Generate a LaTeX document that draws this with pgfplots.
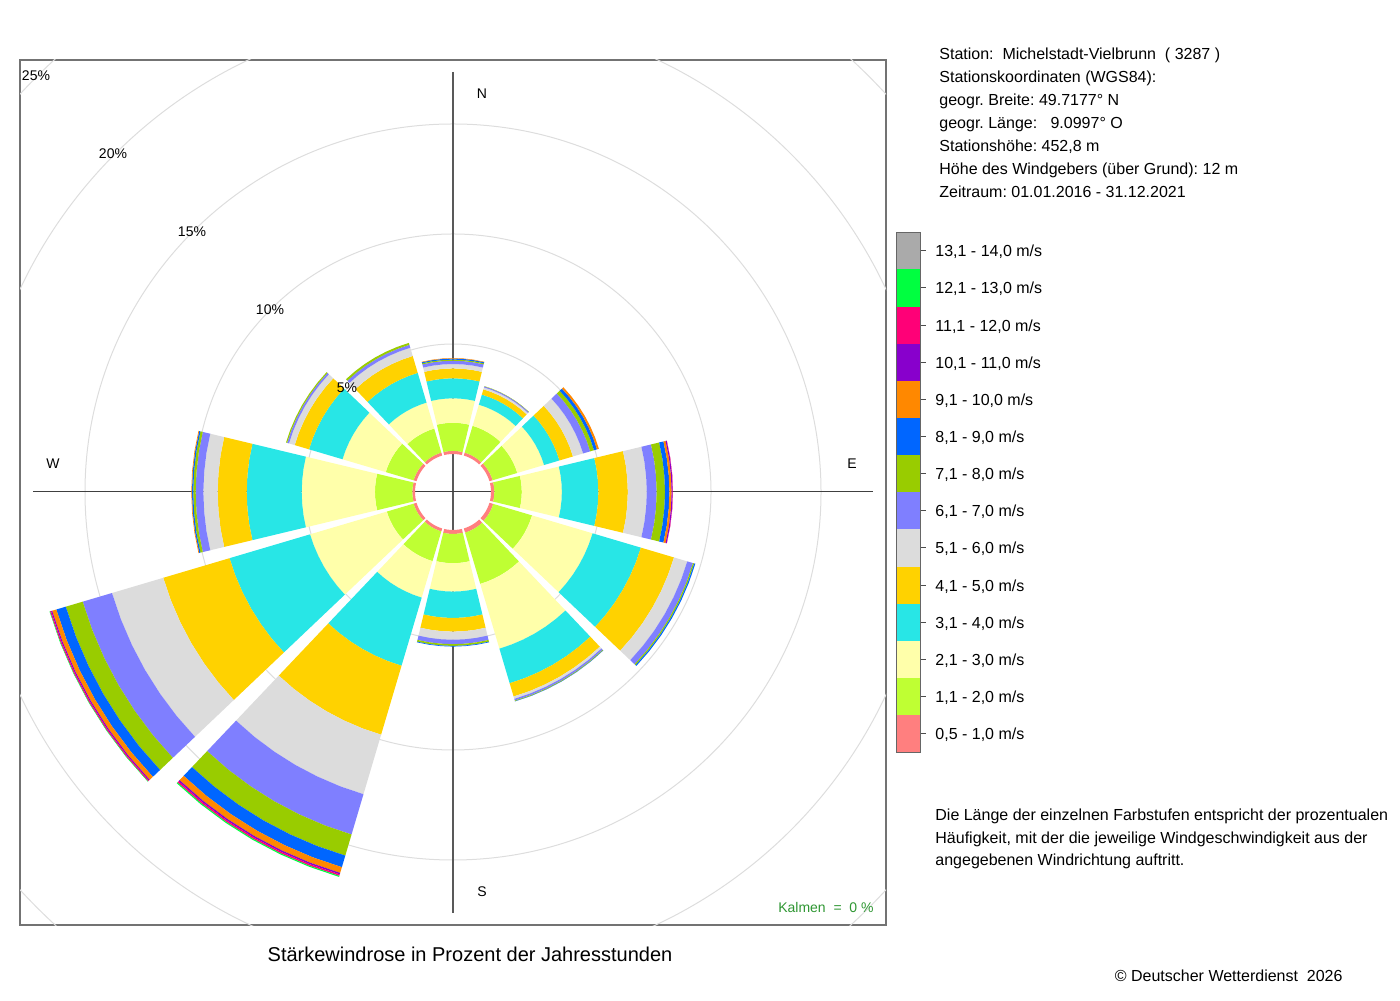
\documentclass[border=0pt]{standalone}
\usepackage{fontspec}
\setmainfont{Liberation Sans}
\usepackage{pgfplots}
\usepackage{pgfplotstable}
\pgfplotsset{compat=1.18}
\frenchspacing

\definecolor{wc1}{HTML}{FF7F7F}
\definecolor{wc2}{HTML}{BFFF33}
\definecolor{wc3}{HTML}{FFFFAA}
\definecolor{wc4}{HTML}{28E6E6}
\definecolor{wc5}{HTML}{FFD200}
\definecolor{wc6}{HTML}{DCDCDC}
\definecolor{wc7}{HTML}{7F7FFF}
\definecolor{wc8}{HTML}{99CC00}
\definecolor{wc9}{HTML}{0066FF}
\definecolor{wc10}{HTML}{FF8800}
\definecolor{wc11}{HTML}{8800CC}
\definecolor{wc12}{HTML}{FF0077}
\definecolor{wc13}{HTML}{00FF40}
\definecolor{wc14}{HTML}{AAAAAA}
\definecolor{gridc}{HTML}{DDDDDD}
\definecolor{kalmen}{HTML}{2E9632}

% percentage of hours per direction (compass degrees) and speed class
\pgfplotstableread{
dir c1 c2 c3 c4 c5 c6 c7 c8 c9 c10 c11 c12 c13 c14
0   0.14 1.28 1.11 0.91 0.45 0.20 0.15 0.05 0.05 0.02 0 0 0 0
30  0.14 1.27 1.00 0.48 0.25 0.09 0.05 0.01 0 0 0 0 0 0
60  0.15 1.17 1.27 0.73 0.64 0.48 0.34 0.18 0.14 0.09 0 0 0 0
90  0.15 1.25 1.82 1.66 1.34 0.86 0.45 0.38 0.20 0.10 0.05 0.01 0 0
120 0.18 1.84 2.87 2.29 1.57 0.63 0.27 0.06 0.05 0 0 0 0 0
150 0.20 2.43 3.07 1.64 0.63 0.11 0.08 0.03 0.01 0 0 0 0 0
180 0.18 1.33 1.29 1.20 0.62 0.37 0.20 0.08 0.03 0 0 0 0 0
210 0.14 1.41 1.73 3.23 3.27 2.82 1.91 1.00 0.55 0.27 0.07 0.07 0.05 0
240 0.14 1.27 3.64 3.82 3.14 2.43 1.39 0.80 0.45 0.20 0.05 0.05 0.02 0
270 0.12 1.70 3.33 2.50 1.32 0.65 0.35 0.11 0.06 0.03 0 0 0 0
300 0.14 1.32 2.05 1.59 0.68 0.27 0.09 0.05 0 0 0 0 0 0
330 0.14 1.14 1.23 1.41 0.80 0.39 0.14 0.09 0 0 0 0 0 0
}\windtable

\newcount\rowcnt
\newcount\colcnt
\newcommand\addpt[2]{%
  \pgfmathsetmacro\ang{\mang+#1}%
  \pgfmathsetmacro\tx{#2*cos(\ang)}%
  \pgfmathsetmacro\ty{#2*sin(\ang)}%
  \edef\coords{\coords (\tx,\ty)}%
}
% #1 compass direction, #2 cumulative start %, #3 cumulative end %, #4 colour
\newcommand\drawsector[4]{%
  \pgfmathsetmacro\Ra{38+22*#2}%
  \pgfmathsetmacro\Rb{38+22*#3}%
  \pgfmathsetmacro\mang{90-#1}%
  \def\coords{}%
  \addpt{-13.5}{\Ra}\addpt{-9}{\Ra}\addpt{-4.5}{\Ra}\addpt{0}{\Ra}%
  \addpt{4.5}{\Ra}\addpt{9}{\Ra}\addpt{13.5}{\Ra}%
  \addpt{13.5}{\Rb}\addpt{9}{\Rb}\addpt{4.5}{\Rb}\addpt{0}{\Rb}%
  \addpt{-4.5}{\Rb}\addpt{-9}{\Rb}\addpt{-13.5}{\Rb}%
  \edef\temp{\noexpand\addplot[draw=none,fill=#4,forget plot] coordinates {\coords};}%
  \temp
}
\def\docol{%
  \pgfplotstablegetelem{\the\rowcnt}{c\the\colcnt}\of\windtable
  \let\val\pgfplotsretval
  \pgfmathsetmacro\newcum{\cum+\val}%
  \ifdim\val pt>0pt \drawsector{\curdir}{\cum}{\newcum}{wc\the\colcnt}\fi
  \let\cum\newcum
}
\def\colloop{\ifnum\colcnt<15 \docol\advance\colcnt by 1 \expandafter\colloop\fi}
\def\dorow{%
  \pgfplotstablegetelem{\the\rowcnt}{dir}\of\windtable
  \let\curdir\pgfplotsretval
  \def\cum{0}%
  \colcnt=1 \colloop}
\def\rowloop{\ifnum\rowcnt<12 \dorow\advance\rowcnt by 1 \expandafter\rowloop\fi}

\begin{document}
\begin{tikzpicture}[x=0.5pt,y=0.5pt]
\useasboundingbox (0,0) rectangle (1400,1000);
\begin{axis}[
  at={(20,75)}, anchor=south west,
  width=433pt, height=432.5pt, scale only axis,
  xmin=-433, xmax=433, ymin=-433, ymax=432,
  axis lines=box, xtick=\empty, ytick=\empty,
  axis line style={draw=black!55, line width=0.6pt},
  clip=true,
]
\draw[gridc, line width=0.5pt] (axis cs:0,0) circle[radius=74pt];
\draw[gridc, line width=0.5pt] (axis cs:0,0) circle[radius=129pt];
\draw[gridc, line width=0.5pt] (axis cs:0,0) circle[radius=184pt];
\draw[gridc, line width=0.5pt] (axis cs:0,0) circle[radius=239pt];
\draw[gridc, line width=0.5pt] (axis cs:0,0) circle[radius=294pt];
\draw[black!65, line width=0.6pt] (axis cs:0,420) -- (axis cs:0,-421);
\draw[black!75, line width=0.5pt] (axis cs:-420,0) -- (axis cs:420,0);
\rowcnt=0 \rowloop
\node[font=\fontsize{7}{8}\selectfont] at (axis cs:29,398) {N};
\node[font=\fontsize{7}{8}\selectfont] at (axis cs:399,28) {E};
\node[font=\fontsize{7}{8}\selectfont] at (axis cs:29,-400) {S};
\node[font=\fontsize{7}{8}\selectfont] at (axis cs:-400,28) {W};
\node[font=\fontsize{7}{8}\selectfont] at (axis cs:-106,104) {5\%};
\node[font=\fontsize{7}{8}\selectfont] at (axis cs:-183,182) {10\%};
\node[font=\fontsize{7}{8}\selectfont] at (axis cs:-261,260) {15\%};
\node[font=\fontsize{7}{8}\selectfont] at (axis cs:-340,338) {20\%};
\node[font=\fontsize{7}{8}\selectfont] at (axis cs:-417,416) {25\%};
\node[font=\fontsize{7}{8}\selectfont, text=kalmen, anchor=base east, inner sep=0pt] at (axis cs:421,-420.7) {Kalmen\ \ =\ \ 0 \%};
\end{axis}

\begin{scope}[shift={(0,1000)}, yscale=-1, every node/.style={anchor=base west, inner sep=0pt, font=\fontsize{8}{9.6}\selectfont}]
\node[anchor=base, font=\fontsize{10}{12}\selectfont] at (470,961) {Stärkewindrose in Prozent der Jahresstunden};
\node at (939,60) {Station:\ \ Michelstadt-Vielbrunn\ \ (~3287~)};
\node at (939,83) {Stationskoordinaten (WGS84):};
\node at (939,106) {geogr. Breite: 49.7177° N};
\node at (939,129) {geogr. Länge:\ \ \ 9.0997° O};
\node at (939,152) {Stationshöhe: 452,8 m};
\node at (939,175) {Höhe des Windgebers (über Grund): 12 m};
\node at (939,198) {Zeitraum: 01.01.2016 - 31.12.2021};
\node at (935,820.7) {Die Länge der einzelnen Farbstufen entspricht der prozentualen};
\node at (935,843.3) {Häufigkeit, mit der die jeweilige Windgeschwindigkeit aus der};
\node at (935,865.7) {angegebenen Windrichtung auftritt.};
\node at (1114.5,981.7) {© Deutscher Wetterdienst\ \ 2026};
\foreach \k/\lab [count=\i from 0] in {14/{13,1 - 14,0 m/s},13/{12,1 - 13,0 m/s},12/{11,1 - 12,0 m/s},11/{10,1 - 11,0 m/s},10/{9,1 - 10,0 m/s},9/{8,1 - 9,0 m/s},8/{7,1 - 8,0 m/s},7/{6,1 - 7,0 m/s},6/{5,1 - 6,0 m/s},5/{4,1 - 5,0 m/s},4/{3,1 - 4,0 m/s},3/{2,1 - 3,0 m/s},2/{1,1 - 2,0 m/s},1/{0,5 - 1,0 m/s}} {
  \pgfmathsetmacro\ytop{232.3+37.14*\i}
  \pgfmathsetmacro\ybot{232.3+37.14*(\i+1)}
  \pgfmathsetmacro\ymid{232.3+37.14*(\i+0.5)}
  \fill[wc\k] (896.5,\ytop) rectangle (920.3,\ybot);
  \draw[black!70, line width=0.5pt] (920.3,\ymid) -- (925.5,\ymid);
  \node at (935,\ymid+6) {\lab};
}
\draw[black!60, line width=0.6pt] (896.5,232.3) rectangle (920.3,752.3);
\end{scope}
\end{tikzpicture}
\end{document}
